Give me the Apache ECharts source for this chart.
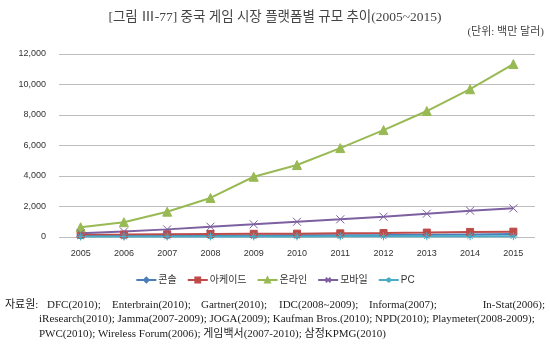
<!DOCTYPE html>
<html>
<head>
<meta charset="utf-8">
<script src="https://cdn.jsdelivr.net/npm/echarts@6/dist/echarts.min.js"></script>
<style>
  html, body { margin: 0; padding: 0; background: #fff; }
  #chart { width: 550px; height: 351px; }
</style>
</head>
<body>
<div id="chart"></div>
<script>
// 중국 게임 시장 플랫폼별 규모 (백만 달러)
var years = ['2005', '2006', '2007', '2008', '2009', '2010', '2011', '2012', '2013', '2014', '2015'];
var consoleVals = [60, 70, 80, 90, 100, 110, 120, 130, 150, 170, 190];
var arcadeVals = [150, 160, 180, 200, 210, 220, 240, 260, 290, 330, 350];
var onlineVals = [640, 970, 1660, 2560, 3950, 4720, 5830, 7010, 8260, 9690, 11340];
var mobileVals = [250, 360, 500, 675, 830, 1000, 1160, 1330, 1530, 1725, 1880];
var pcVals = [30, 30, 35, 35, 40, 40, 45, 45, 50, 50, 55];
var yTicks = [0, 2000, 4000, 6000, 8000, 10000, 12000];

var serif = '"Liberation Serif", "Noto Sans CJK KR", serif';
var sans = '"Liberation Sans", "Noto Sans CJK KR", sans-serif';

var crossPath = 'path://M0,0L10,10M10,0L0,10';
var starPath = 'path://M5,0L5,10M0,5L10,5M1.5,1.5L8.5,8.5M8.5,1.5L1.5,8.5';

function mkSeries(name, data, color, symbol, size, width) {
  return {
    name: name, type: 'line', data: data,
    symbol: symbol, symbolSize: size,
    lineStyle: { color: color, width: width || 2 },
    itemStyle: { color: color, borderColor: color, borderWidth: 1 },
    emphasis: { disabled: true },
    animation: false
  };
}

function srcText(x, y, txt, alignRight) {
  var el = { type: 'text', top: y, style: { text: txt, fontFamily: serif, fontSize: 11, fill: '#222' } };
  if (alignRight) el.right = x; else el.left = x;
  return el;
}

var chart = echarts.init(document.getElementById('chart'), null, { renderer: 'canvas' });
chart.setOption({
  backgroundColor: '#fff',
  animation: false,
  title: {
    text: '[그림 Ⅲ-77] 중국 게임 시장 플랫폼별 규모 추이(2005~2015)',
    left: 'center', top: 6,
    textStyle: { fontFamily: serif, fontSize: 13.5, fontWeight: 'normal', color: '#444' }
  },
  grid: { left: 59, right: 15, top: 54, bottom: 114, containLabel: false },
  xAxis: {
    type: 'category', data: years, boundaryGap: true,
    axisLine: { show: false }, axisTick: { show: false },
    axisLabel: { fontFamily: sans, fontSize: 9, color: '#333', margin: 12 }
  },
  yAxis: {
    type: 'value', min: 0, max: 12000, interval: 2000,
    axisLine: { show: false }, axisTick: { show: false },
    splitLine: { lineStyle: { color: '#bdbdbd', width: 1 } },
    axisLabel: {
      fontFamily: sans, fontSize: 9, color: '#333', margin: 13,
      formatter: function (v) { return yTicks.indexOf(v) >= 0 ? v.toLocaleString('en-US') : ''; }
    }
  },
  legend: {
    top: 270, left: 'center', itemWidth: 20, itemHeight: 6, itemGap: 10,
    textStyle: { fontFamily: sans, fontSize: 10, color: '#333', padding: [0, 0, 0, -3] },
    data: ['콘솔', '아케이드', '온라인', '모바일', 'PC']
  },
  series: [
    mkSeries('콘솔', consoleVals, '#4a7ebb', 'diamond', 7),
    mkSeries('아케이드', arcadeVals, '#be4b48', 'rect', 7),
    mkSeries('온라인', onlineVals, '#98b954', 'triangle', 9),
    mkSeries('모바일', mobileVals, '#7d60a0', crossPath, 8),
    mkSeries('PC', pcVals, '#4bacc6', starPath, 8)
  ],
  graphic: [
    { type: 'text', right: 6, top: 27, style: { text: '(단위: 백만 달러)', fontFamily: serif, fontSize: 11, fill: '#444' } },
    srcText(5, 300, '자료원:'),
    srcText(47, 300, 'DFC(2010);'),
    srcText(112, 300, 'Enterbrain(2010);'),
    srcText(201, 300, 'Gartner(2010);'),
    srcText(279, 300, 'IDC(2008~2009);'),
    srcText(369, 300, 'Informa(2007);'),
    srcText(5, 300, 'In-Stat(2006);', true),
    srcText(39, 314, 'iResearch(2010); Jamma(2007-2009); JOGA(2009); Kaufman Bros.(2010); NPD(2010); Playmeter(2008-2009);'),
    srcText(39, 329, 'PWC(2010); Wireless Forum(2006); 게임백서(2007-2010); 삼정KPMG(2010)')
  ]
});
</script>
</body>
</html>
